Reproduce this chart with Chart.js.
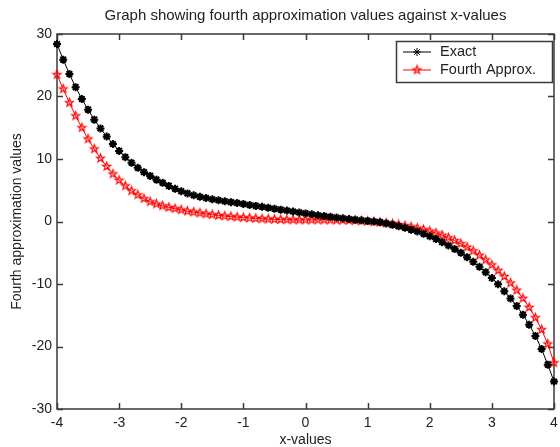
<!DOCTYPE html>
<html>
<head>
<meta charset="utf-8">
<script src="https://cdn.jsdelivr.net/npm/chart.js@4.4.0/dist/chart.umd.min.js"></script>
<style>
  html, body { margin: 0; padding: 0; background: #fff; }
  #wrap { width: 560px; height: 447px; }
</style>
</head>
<body>
<div id="wrap"><canvas id="chart" width="560" height="447"></canvas></div>
<script>
const xValues = [-4, -3.9, -3.8, -3.7, -3.6, -3.5, -3.4, -3.3, -3.2, -3.1, -3, -2.9, -2.8, -2.7, -2.6, -2.5, -2.4, -2.3, -2.2, -2.1,
  -2, -1.9, -1.8, -1.7, -1.6, -1.5, -1.4, -1.3, -1.2, -1.1, -1, -0.9, -0.8, -0.7, -0.6, -0.5, -0.4, -0.3, -0.2, -0.1,
  0, 0.1, 0.2, 0.3, 0.4, 0.5, 0.6, 0.7, 0.8, 0.9, 1, 1.1, 1.2, 1.3, 1.4, 1.5, 1.6, 1.7, 1.8, 1.9,
  2, 2.1, 2.2, 2.3, 2.4, 2.5, 2.6, 2.7, 2.8, 2.9, 3, 3.1, 3.2, 3.3, 3.4, 3.5, 3.6, 3.7, 3.8, 3.9, 4];

const exactValues = [28.4, 25.9, 23.6, 21.5, 19.6, 17.9, 16.3, 14.9, 13.6, 12.4, 11.3, 10.3, 9.4, 8.6, 7.9, 7.3, 6.7, 6.2, 5.7, 5.25,
  4.85, 4.5, 4.2, 3.95, 3.75, 3.55, 3.4, 3.25, 3.1, 2.95, 2.8, 2.65, 2.5, 2.35, 2.2, 2.05, 1.9, 1.75, 1.6, 1.45,
  1.3, 1.15, 1.0, 0.88, 0.76, 0.64, 0.52, 0.4, 0.3, 0.2, 0.1, 0.0, -0.1, -0.3, -0.5, -0.75, -1.0, -1.3, -1.6, -1.95,
  -2.35, -2.8, -3.3, -3.85, -4.4, -5.0, -5.7, -6.45, -7.25, -8.1, -9.05, -10.05, -11.15, -12.3, -13.5, -14.9, -16.5, -18.3, -20.4, -22.9, -25.6];

const fourthValues = [23.5, 21.2, 19.0, 16.9, 15.0, 13.2, 11.6, 10.1, 8.8, 7.6, 6.6, 5.7, 4.9, 4.25, 3.65, 3.15, 2.8, 2.5, 2.25, 2.05,
  1.85, 1.65, 1.5, 1.35, 1.2, 1.08, 0.97, 0.87, 0.78, 0.7, 0.62, 0.55, 0.49, 0.43, 0.38, 0.34, 0.3, 0.28, 0.26, 0.25,
  0.25, 0.25, 0.25, 0.25, 0.24, 0.23, 0.21, 0.18, 0.14, 0.09, 0.03, -0.05, -0.14, -0.25, -0.38, -0.52, -0.68, -0.86, -1.06, -1.3,
  -1.55, -1.85, -2.2, -2.6, -3.05, -3.55, -4.1, -4.7, -5.4, -6.15, -6.95, -7.85, -8.8, -9.85, -11.0, -12.3, -13.75, -15.4, -17.3, -19.6, -22.6];

const xTicks = [-4, -3, -2, -1, 0, 1, 2, 3, 4];
const yTicks = [-30, -20, -10, 0, 10, 20, 30];

const FONT = 'Liberation Sans, Arial, Helvetica, sans-serif';
const TEXT = '#222';
const AXIS = '#3a3a3a';

// hollow five-point star, like matlab's 'p' marker
function pentagram(color, r) {
  const c = document.createElement('canvas');
  const s = Math.ceil(r * 2 + 4);
  c.width = s; c.height = s;
  const g = c.getContext('2d');
  g.strokeStyle = color;
  g.lineWidth = 1.2;
  g.beginPath();
  for (let i = 0; i < 10; i++) {
    const a = -Math.PI / 2 + i * Math.PI / 5;
    const rr = i % 2 === 0 ? r : r * 0.42;
    const px = s / 2 + rr * Math.cos(a), py = s / 2 + rr * Math.sin(a);
    if (i === 0) g.moveTo(px, py); else g.lineTo(px, py);
  }
  g.closePath();
  g.stroke();
  return c;
}
const redStar = pentagram('#ff0000', 4.2);

const framePlugin = {
  id: 'frame',
  beforeDatasetsDraw(chart) {
    const { ctx, chartArea: a, scales: { x, y } } = chart;
    ctx.save();
    ctx.strokeStyle = AXIS;
    ctx.lineWidth = 1.5;
    ctx.strokeRect(a.left, a.top, a.right - a.left, a.bottom - a.top);
    ctx.beginPath();
    xTicks.forEach(v => {
      const px = Math.round(x.getPixelForValue(v)) + 0.5;
      ctx.moveTo(px, a.bottom); ctx.lineTo(px, a.bottom - 6);
      ctx.moveTo(px, a.top); ctx.lineTo(px, a.top + 6);
    });
    yTicks.forEach(v => {
      const py = Math.round(y.getPixelForValue(v)) + 0.5;
      ctx.moveTo(a.left, py); ctx.lineTo(a.left + 6, py);
      ctx.moveTo(a.right, py); ctx.lineTo(a.right - 6, py);
    });
    ctx.stroke();
    ctx.restore();
  },
  afterDraw(chart) {
    const { ctx, chartArea: a } = chart;
    ctx.save();
    // title
    ctx.fillStyle = TEXT;
    ctx.font = '15px ' + FONT;
    ctx.textAlign = 'center';
    ctx.textBaseline = 'middle';
    ctx.fillText('Graph showing fourth approximation values against x-values', (a.left + a.right) / 2, 16);

    // legend box
    const bx = 396.5, by = 41.5, bw = 156, bh = 41;
    ctx.fillStyle = '#fff';
    ctx.fillRect(bx, by, bw, bh);
    ctx.strokeStyle = AXIS;
    ctx.lineWidth = 1.5;
    ctx.strokeRect(bx, by, bw, bh);
    ctx.font = '14.5px ' + FONT;
    const rows = [
      { text: 'Exact', ds: chart.data.datasets[0], y: 52 },
      { text: 'Fourth Approx.', ds: chart.data.datasets[1], y: 70 }
    ];
    rows.forEach(r => {
      ctx.strokeStyle = r.ds.borderColor;
      ctx.lineWidth = 1;
      ctx.beginPath();
      ctx.moveTo(403, r.y); ctx.lineTo(431, r.y);
      ctx.stroke();
      Chart.helpers.drawPoint(ctx, {
        pointStyle: r.ds.pointStyle, radius: r.ds.pointRadius, borderWidth: r.ds.pointBorderWidth, rotation: 0
      }, 417, r.y);
      ctx.fillStyle = TEXT;
      ctx.textAlign = 'left';
      ctx.textBaseline = 'middle';
      ctx.fillText(r.text, 440, r.y);
    });
    ctx.restore();
  }
};

const ctx = document.getElementById('chart').getContext('2d');
new Chart(ctx, {
  type: 'scatter',
  data: {
    datasets: [
      {
        label: 'Exact',
        data: xValues.map((x, i) => ({ x: x, y: exactValues[i] })),
        showLine: true,
        borderColor: '#000',
        borderWidth: 1,
        pointStyle: 'star',
        pointRadius: 4,
        pointBorderColor: '#000',
        pointBorderWidth: 2,
        pointBackgroundColor: '#000',
        clip: false
      },
      {
        label: 'Fourth Approx.',
        data: xValues.map((x, i) => ({ x: x, y: fourthValues[i] })),
        showLine: true,
        borderColor: '#ff0000',
        borderWidth: 1,
        pointStyle: redStar,
        pointRadius: 4,
        pointBorderWidth: 1,
        clip: false
      }
    ]
  },
  options: {
    responsive: false,
    animation: false,
    devicePixelRatio: 1,
    layout: { padding: { top: 34, right: 2, left: 0, bottom: 0 } },
    plugins: { legend: { display: false }, tooltip: { enabled: false } },
    scales: {
      x: {
        type: 'linear',
        min: -4,
        max: 4,
        afterBuildTicks: s => { s.ticks = xTicks.map(v => ({ value: v })); },
        afterFit: s => { s.height = 38; s.paddingLeft = 0; s.paddingRight = 0; },
        grid: { display: false, drawTicks: false },
        border: { display: false },
        ticks: { color: TEXT, font: { family: FONT, size: 14 }, padding: 6, maxRotation: 0, autoSkip: false },
        title: { display: true, text: 'x-values', color: TEXT, font: { family: FONT, size: 14, lineHeight: 1 }, padding: { top: 0, bottom: 0 } }
      },
      y: {
        type: 'linear',
        min: -30,
        max: 30,
        afterBuildTicks: s => { s.ticks = yTicks.map(v => ({ value: v })); },
        afterFit: s => { s.width = 57; s.paddingTop = 0; s.paddingBottom = 0; },
        grid: { display: false, drawTicks: false },
        border: { display: false },
        ticks: { color: TEXT, font: { family: FONT, size: 14 }, padding: 5, autoSkip: false },
        title: { display: true, text: 'Fourth approximation values', color: TEXT, font: { family: FONT, size: 14 }, padding: { top: 9, bottom: 0 } }
      }
    }
  },
  plugins: [framePlugin]
});
</script>
</body>
</html>
